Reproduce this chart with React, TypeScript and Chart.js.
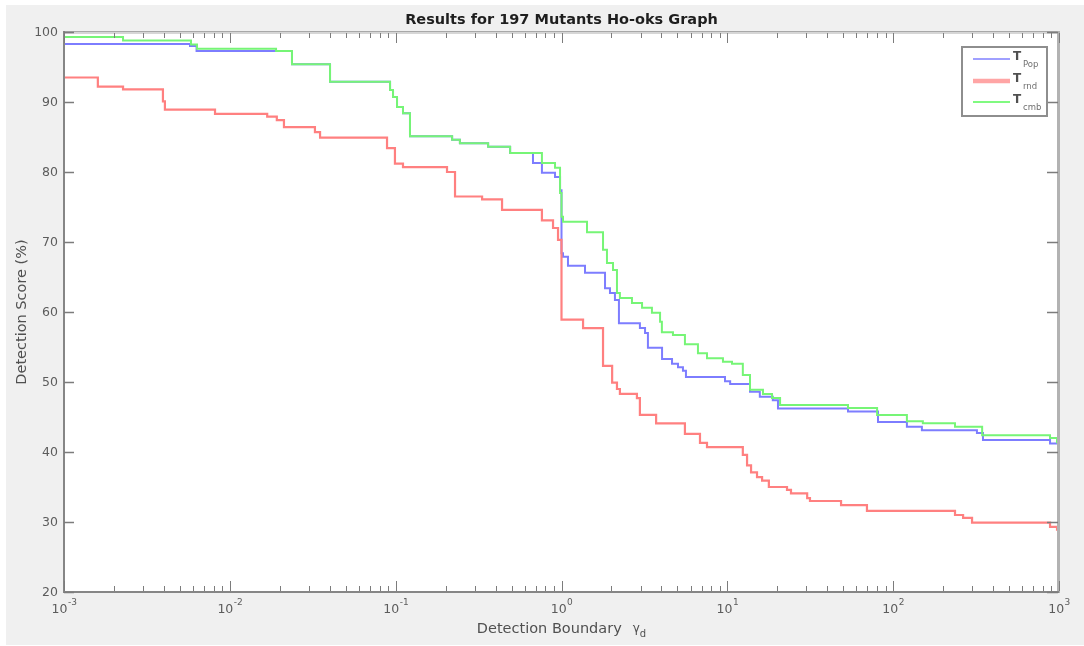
import { useEffect, useRef } from 'react';
import { Chart, registerables } from 'chart.js';

Chart.register(...registerables);

// Axis ranges and tick labels
const X_MIN = 1e-3;
const X_MAX = 1e3;
const Y_MIN = 20;
const Y_MAX = 100;
const Y_TICKS = [20, 30, 40, 50, 60, 70, 80, 90, 100];
const X_DECADES = [1e-3, 1e-2, 1e-1, 1, 10, 100, 1000];
const X_EXPONENTS = ['-3', '-2', '-1', '0', '1', '2', '3'];
const MINOR_MULTIPLIERS = [2, 3, 4, 5, 6, 7, 8, 9];

const TITLE = 'Results for 197 Mutants Ho-oks Graph';
const X_TITLE = 'Detection Boundary';
const Y_TITLE = 'Detection Score (%)';
const SERIES_NAMES = ['Pop', 'rnd', 'cmb'];

// T_Pop: boundary where each level starts, and the score held from there
const POP_X = [0.001, 0.00575, 0.0063, 0.0237, 0.0402, 0.0925, 0.0964, 0.1019, 0.1107, 0.122, 0.219, 0.244, 0.361, 0.49, 0.673, 0.762, 0.914, 0.98, 1.0, 1.021, 1.094, 1.386, 1.83, 1.96, 2.1, 2.22, 2.97, 3.19, 3.32, 4.04, 4.64, 5.04, 5.4, 5.63, 9.68, 10.4, 13.7, 15.7, 18.8, 20.2, 53.4, 81, 121, 149, 320, 348, 883, 1000];
const POP_Y = [98.3, 98.0, 97.3, 95.4, 92.9, 91.7, 90.7, 89.3, 88.4, 85.1, 84.6, 84.1, 83.6, 82.7, 81.3, 79.9, 79.3, 77.4, 68.4, 67.9, 66.6, 65.6, 63.4, 62.7, 61.7, 58.4, 57.7, 57.0, 54.9, 53.3, 52.6, 52.1, 51.6, 50.7, 50.1, 49.7, 48.6, 47.9, 47.4, 46.2, 45.8, 44.3, 43.6, 43.1, 42.7, 41.7, 41.2, 41.2];

// T_rnd
const RND_X = [0.001, 0.0016, 0.00227, 0.00395, 0.00406, 0.00814, 0.0168, 0.0192, 0.0212, 0.0326, 0.035, 0.0887, 0.099, 0.1107, 0.204, 0.228, 0.332, 0.438, 0.762, 0.889, 0.953, 1.0, 1.349, 1.78, 2.02, 2.16, 2.25, 2.85, 2.97, 3.72, 5.55, 6.84, 7.54, 12.4, 13.15, 13.9, 15.1, 16.2, 17.8, 22.9, 24.2, 30.3, 31.5, 48.5, 69.5, 236, 264, 299, 883, 973, 1000];
const RND_Y = [93.5, 92.2, 91.8, 90.1, 88.9, 88.3, 87.9, 87.4, 86.4, 85.7, 84.9, 83.4, 81.2, 80.7, 80.0, 76.5, 76.1, 74.6, 73.1, 72.0, 70.3, 58.9, 57.7, 52.3, 49.9, 49.0, 48.3, 47.7, 45.3, 44.1, 42.6, 41.3, 40.7, 39.6, 38.1, 37.1, 36.4, 35.9, 35.0, 34.6, 34.1, 33.4, 33.0, 32.4, 31.6, 31.0, 30.6, 29.9, 29.3, 28.9, 28.9];

// T_cmb
const CMB_X = [0.001, 0.00227, 0.00583, 0.00634, 0.019, 0.0237, 0.0402, 0.0925, 0.0964, 0.1019, 0.1107, 0.122, 0.219, 0.244, 0.361, 0.49, 0.762, 0.914, 0.98, 1.0, 1.021, 1.425, 1.78, 1.88, 2.045, 2.16, 2.25, 2.66, 3.06, 3.51, 3.93, 4.03, 4.7, 5.55, 6.65, 7.54, 9.41, 10.67, 12.4, 13.7, 16.4, 18.6, 20.8, 53.4, 80, 121, 151, 236, 344, 883, 973, 1000];
const CMB_Y = [99.3, 98.8, 98.2, 97.6, 97.3, 95.4, 92.9, 91.7, 90.7, 89.3, 88.4, 85.1, 84.6, 84.1, 83.6, 82.7, 81.3, 80.6, 77.0, 73.6, 72.9, 71.4, 68.9, 67.0, 66.0, 62.7, 62.0, 61.3, 60.6, 59.9, 58.6, 57.1, 56.7, 55.4, 54.1, 53.4, 52.9, 52.6, 51.0, 48.9, 48.3, 47.7, 46.7, 46.3, 45.3, 44.4, 44.1, 43.6, 42.4, 42.0, 41.4, 41.4];

const COLORS = ['rgb(125,125,255)', 'rgb(255,128,128)', 'rgb(118,245,118)'];
const LEGEND_COLORS = ['rgb(160,160,255)', 'rgb(255,165,165)', 'rgb(128,250,128)'];
const LEGEND_WIDTHS = [2, 4.5, 2];

const FONT = '"DejaVu Sans", "Liberation Sans", sans-serif';

const toPoints = (xs: number[], ys: number[]) => xs.map((x, i) => ({ x, y: ys[i] }));

const framePlugin = {
  id: 'matlabFrame',
  beforeDraw(chart: any) {
    const { ctx, chartArea: a, width, height } = chart;
    ctx.save();
    ctx.fillStyle = '#ffffff';
    ctx.fillRect(0, 0, width, height);
    ctx.fillStyle = '#f0f0f0';
    ctx.fillRect(6, 5, width - 6, height - 6);
    ctx.fillStyle = '#ffffff';
    ctx.fillRect(a.left, a.top, a.right - a.left, a.bottom - a.top);
    ctx.restore();
  },
  afterDraw(chart: any) {
    const { ctx, chartArea: a } = chart;
    const xs = chart.scales.x;
    const ys = chart.scales.y;
    const w = a.right - a.left;
    const h = a.bottom - a.top;
    ctx.save();

    // box: light top and right edges, darker left and bottom axes
    ctx.fillStyle = '#d6d6d6';
    ctx.fillRect(a.left, a.top - 1, w, 3);
    ctx.fillStyle = '#a8a8a8';
    ctx.fillRect(a.left, a.top - 1, w, 1);
    ctx.fillStyle = '#b2b2b2';
    ctx.fillRect(a.right - 2, a.top - 1, 3, h + 2);
    ctx.fillStyle = '#868686';
    ctx.fillRect(a.left - 1, a.top - 1, 2, h + 2);
    ctx.fillRect(a.left - 1, a.bottom - 1, w + 1, 2);

    // y ticks on both sides
    ctx.strokeStyle = '#7c7c7c';
    ctx.lineWidth = 1.5;
    for (const v of Y_TICKS) {
      const py = Math.round(ys.getPixelForValue(v)) + 0.5;
      ctx.beginPath();
      ctx.moveTo(a.left, py);
      ctx.lineTo(a.left + 10, py);
      ctx.moveTo(a.right - 12, py);
      ctx.lineTo(a.right - 1, py);
      ctx.stroke();
    }

    // x ticks: decades long, minors short, on bottom and top
    ctx.lineWidth = 1;
    const xTick = (v: number, len: number) => {
      const px = Math.round(xs.getPixelForValue(v)) + 0.5;
      ctx.beginPath();
      ctx.moveTo(px, a.bottom - 1);
      ctx.lineTo(px, a.bottom - 1 - len);
      ctx.moveTo(px, a.top + 1);
      ctx.lineTo(px, a.top + 1 + len);
      ctx.stroke();
    };
    X_DECADES.forEach((d, i) => {
      xTick(d, 10);
      if (i < X_DECADES.length - 1) MINOR_MULTIPLIERS.forEach((m) => xTick(d * m, 5));
    });

    // y tick labels
    ctx.fillStyle = '#5c5c5c';
    ctx.font = `12.5px ${FONT}`;
    ctx.textAlign = 'right';
    ctx.textBaseline = 'middle';
    for (const v of Y_TICKS) {
      ctx.fillText(String(v), a.left - 6, ys.getPixelForValue(v) + 1);
    }

    // x tick labels as 10 with superscript exponent
    ctx.textAlign = 'left';
    X_DECADES.forEach((d, i) => {
      const px = xs.getPixelForValue(d);
      ctx.font = `12.5px ${FONT}`;
      const wb = ctx.measureText('10').width;
      ctx.font = `9px ${FONT}`;
      const we = ctx.measureText(X_EXPONENTS[i]).width;
      const x0 = px - (wb + we) / 2;
      ctx.font = `12.5px ${FONT}`;
      ctx.fillText('10', x0, a.bottom + 18);
      ctx.font = `9px ${FONT}`;
      ctx.fillText(X_EXPONENTS[i], x0 + wb + 0.5, a.bottom + 11);
    });

    // title
    const cx = (a.left + a.right) / 2;
    ctx.fillStyle = '#1e1e1e';
    ctx.font = `bold 14.5px ${FONT}`;
    ctx.textAlign = 'center';
    ctx.fillText(TITLE, cx, 20.5);

    // x axis title with gamma_d
    ctx.fillStyle = '#505050';
    ctx.font = `14.5px ${FONT}`;
    const wt = ctx.measureText(X_TITLE).width;
    ctx.font = `12px ${FONT}`;
    const wg = ctx.measureText('γ').width;
    ctx.font = `10px ${FONT}`;
    const wd = ctx.measureText('d').width;
    const gap = 11;
    const total = wt + gap + wg + wd;
    let tx = cx - total / 2;
    ctx.textAlign = 'left';
    ctx.font = `14.5px ${FONT}`;
    ctx.fillText(X_TITLE, tx, 629);
    tx += wt + gap;
    ctx.font = `12px ${FONT}`;
    ctx.fillText('γ', tx, 629);
    tx += wg;
    ctx.font = `10px ${FONT}`;
    ctx.fillText('d', tx, 634);

    // y axis title
    ctx.save();
    ctx.translate(22.5, (a.top + a.bottom) / 2);
    ctx.rotate(-Math.PI / 2);
    ctx.textAlign = 'center';
    ctx.font = `14.5px ${FONT}`;
    ctx.fillText(Y_TITLE, 0, 0);
    ctx.restore();

    // legend box
    const lx = 962;
    const ly = 47;
    ctx.fillStyle = '#ffffff';
    ctx.fillRect(lx, ly, 85, 69);
    ctx.strokeStyle = '#8e8e8e';
    ctx.lineWidth = 2;
    ctx.strokeRect(lx, ly, 85, 69);
    const rows = [59, 81, 102];
    SERIES_NAMES.forEach((name, i) => {
      const ry = rows[i];
      ctx.strokeStyle = LEGEND_COLORS[i];
      ctx.lineWidth = LEGEND_WIDTHS[i];
      ctx.beginPath();
      ctx.moveTo(973, ry);
      ctx.lineTo(1010, ry);
      ctx.stroke();
      ctx.fillStyle = '#505050';
      ctx.textAlign = 'left';
      ctx.textBaseline = 'middle';
      ctx.font = `bold 12px ${FONT}`;
      ctx.fillText('T', 1013, ry - 2);
      ctx.fillStyle = '#707070';
      ctx.font = `8.5px ${FONT}`;
      ctx.fillText(name, 1023, ry + 6);
    });

    ctx.restore();
  },
};

export default function App() {
  const canvasRef = useRef<HTMLCanvasElement | null>(null);

  useEffect(() => {
    const canvas = canvasRef.current;
    if (!canvas) return;
    const series = [
      { x: POP_X, y: POP_Y, order: 3 },
      { x: RND_X, y: RND_Y, order: 2 },
      { x: CMB_X, y: CMB_Y, order: 1 },
    ];
    const chart = new Chart(canvas, {
      type: 'line',
      data: {
        datasets: series.map((s, i) => ({
          label: 'T' + SERIES_NAMES[i],
          data: toPoints(s.x, s.y),
          borderColor: COLORS[i],
          backgroundColor: COLORS[i],
          borderWidth: i === 1 ? 2.2 : 2,
          pointRadius: 0,
          stepped: 'before' as const,
          fill: false,
          order: s.order,
        })),
      },
      options: {
        animation: false,
        responsive: false,
        maintainAspectRatio: false,
        devicePixelRatio: 1,
        layout: { padding: { left: 64, top: 32, right: 25, bottom: 54 } },
        plugins: {
          legend: { display: false },
          title: { display: false },
          tooltip: { enabled: false },
        },
        scales: {
          x: { type: 'logarithmic', min: X_MIN, max: X_MAX, display: false },
          y: { type: 'linear', min: Y_MIN, max: Y_MAX, display: false },
        },
      },
      plugins: [framePlugin],
    });
    return () => chart.destroy();
  }, []);

  return (
    <div style={{ position: 'absolute', left: 0, top: 0, width: 1084, height: 646 }}>
      <canvas ref={canvasRef} width={1084} height={646} style={{ display: 'block' }} />
    </div>
  );
}
